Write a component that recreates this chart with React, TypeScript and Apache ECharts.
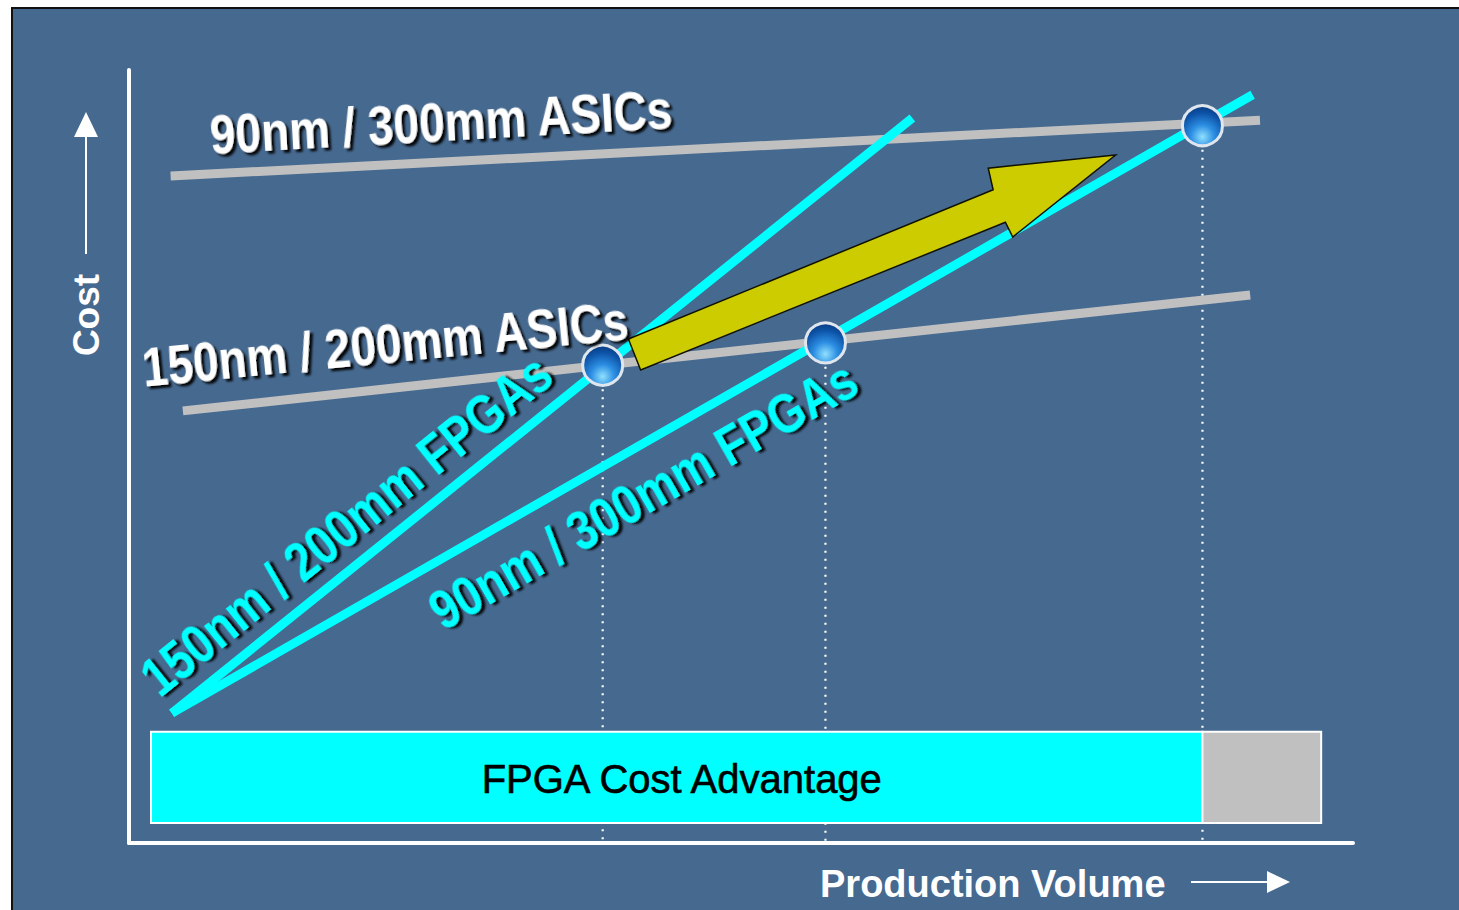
import React, { useEffect, useRef } from "react";
import * as echarts from "echarts";

// ---- Conceptual scales: Production Volume (x) and Cost (y), 0..100 ----
const X_RANGE = [0, 100];
const Y_RANGE = [0, 100];

// ---- Cost lines (start / end points) ----
const LINE_NAMES = [
  "90nm / 300mm ASICs",
  "150nm / 200mm ASICs",
  "150nm / 200mm FPGAs",
  "90nm / 300mm FPGAs",
];
const ASIC_90 = [
  [3.4, 86.3],
  [92.4, 93.5],
];
const ASIC_150 = [
  [4.4, 55.9],
  [91.6, 70.9],
];
const FPGA_150 = [
  [3.5, 16.8],
  [64.0, 93.8],
];
const FPGA_90 = [
  [3.5, 16.8],
  [91.8, 96.8],
];

// ---- Crossover points ----
const CROSSOVERS = [
  [38.7, 61.8],
  [56.9, 64.7],
  [87.7, 92.8],
];

// ---- Bottom bar: FPGA cost advantage region and remaining region ----
const BAR_LABEL = "FPGA Cost Advantage";
const BAR_X = [
  [1.8, 87.7],
  [87.7, 97.4],
];
const BAR_Y = [14.4, 2.6];
const BAR_COLORS = ["#00ffff", "#c0c0c0"];

// ---- Migration arrow outline ----
const ARROW_X = [40.8, 70.6, 70.2, 80.6, 72.2, 71.6, 41.8];
const ARROW_Y = [65.2, 84.5, 87.3, 89.0, 78.4, 80.3, 61.2];

const AXIS_X_NAME = "Production Volume";
const AXIS_Y_NAME = "Cost";

const deg = Math.PI / 180;
const FONT = '"Liberation Sans", Arial, Helvetica, sans-serif';

function bigLabel(text: string, x: number, y: number, rot: number, fill: string) {
  return {
    type: "text",
    x,
    y,
    rotation: rot * deg,
    scaleX: 0.82,
    z: 50,
    silent: true,
    style: {
      text,
      fill,
      font: `bold 56px ${FONT}`,
      align: "center",
      verticalAlign: "middle",
      textShadowColor: "rgba(0,0,0,0.95)",
      textShadowOffsetX: 3,
      textShadowOffsetY: 3,
      textShadowBlur: 2,
    },
  };
}

export default function App() {
  const ref = useRef<HTMLDivElement>(null);

  useEffect(() => {
    if (!ref.current) return;
    const chart = echarts.init(ref.current, null, { renderer: "svg" });

    const lineSeries = (name: string, data: number[][], color: string, z: number) => ({
      name,
      type: "line",
      data,
      symbol: "none",
      silent: true,
      z,
      lineStyle: { color, width: 9, cap: "butt" },
    });

    const dropLines = CROSSOVERS.map(([x, y]) => ({
      type: "line",
      data: [
        [x, y],
        [x, Y_RANGE[0]],
      ],
      symbol: "none",
      silent: true,
      z: 1,
      lineStyle: { color: "#ffffff", width: 2.2, type: [2, 6] },
    }));

    const sphere = new echarts.graphic.RadialGradient(0.5, 0.78, 0.75, [
      { offset: 0, color: "#8fe0ff" },
      { offset: 0.4, color: "#2b8de2" },
      { offset: 0.8, color: "#0c52a6" },
      { offset: 1, color: "#0a3f86" },
    ]);

    const option: any = {
      animation: false,
      backgroundColor: "#ffffff",
      grid: { left: 129, top: 70, width: 1224, height: 773, containLabel: false },
      xAxis: {
        type: "value",
        min: X_RANGE[0],
        max: X_RANGE[1],
        axisLine: { show: true, onZero: false, lineStyle: { color: "#ffffff", width: 4 } },
        axisTick: { show: false },
        axisLabel: { show: false },
        splitLine: { show: false },
      },
      yAxis: {
        type: "value",
        min: Y_RANGE[0],
        max: Y_RANGE[1],
        axisLine: { show: true, onZero: false, lineStyle: { color: "#ffffff", width: 4 } },
        axisTick: { show: false },
        axisLabel: { show: false },
        splitLine: { show: false },
      },
      series: [
        ...dropLines,
        lineSeries(LINE_NAMES[0], ASIC_90, "#c0c0c0", 2),
        lineSeries(LINE_NAMES[1], ASIC_150, "#c0c0c0", 2),
        lineSeries(LINE_NAMES[2], FPGA_150, "#00ffff", 3),
        lineSeries(LINE_NAMES[3], FPGA_90, "#00ffff", 3),
        {
          type: "custom",
          z: 4,
          silent: true,
          encode: { x: [0, 1], y: [2, 3] },
          data: BAR_X.map(([a, b]) => [a, b, BAR_Y[0], BAR_Y[1]]),
          renderItem: (params: any, api: any) => {
            const p0 = api.coord([api.value(0), api.value(2)]);
            const p1 = api.coord([api.value(1), api.value(3)]);
            const el: any = {
              type: "rect",
              shape: { x: p0[0], y: p0[1], width: p1[0] - p0[0], height: p1[1] - p0[1] },
              style: { fill: BAR_COLORS[params.dataIndex], stroke: "#ffffff", lineWidth: 2 },
            };
            if (params.dataIndex === 0) {
              el.textContent = {
                style: {
                  text: BAR_LABEL,
                  fill: "#000000",
                  font: `40px ${FONT}`,
                  stroke: "#000000",
                  lineWidth: 0.6,
                },
              };
              el.textConfig = { position: "inside", offset: [5, 2] };
            }
            return el;
          },
        },
        {
          type: "custom",
          z: 5,
          silent: true,
          data: [[ARROW_X[0], ARROW_Y[0]]],
          renderItem: (params: any, api: any) => {
            const points = ARROW_X.map((x, i) => api.coord([x, ARROW_Y[i]]));
            return {
              type: "polygon",
              shape: { points },
              style: { fill: "#cccc00", stroke: "#111100", lineWidth: 1.5 },
            };
          },
        },
        {
          type: "scatter",
          z: 6,
          silent: true,
          data: CROSSOVERS,
          symbol: "circle",
          symbolSize: 40,
          itemStyle: { color: sphere, borderColor: "#dfe6ee", borderWidth: 3, opacity: 1 },
        },
      ],
      graphic: [
        {
          type: "rect",
          z: -10,
          silent: true,
          shape: { x: 12, y: 8, width: 1460, height: 910 },
          style: { fill: "#46698f", stroke: "#111111", lineWidth: 2 },
        },
        bigLabel(LINE_NAMES[0], 441, 122, 3.2, "#ffffff"),
        bigLabel(LINE_NAMES[1], 385, 344, 5.6, "#ffffff"),
        bigLabel(LINE_NAMES[2], 346, 525, 38.7, "#00ffff"),
        bigLabel(LINE_NAMES[3], 643, 495, 29.8, "#00ffff"),
        {
          type: "text",
          x: 86,
          y: 315,
          rotation: 90 * deg,
          z: 50,
          silent: true,
          style: {
            text: AXIS_Y_NAME,
            fill: "#ffffff",
            font: `bold 37px ${FONT}`,
            align: "center",
            verticalAlign: "middle",
          },
        },
        {
          type: "line",
          z: 50,
          silent: true,
          shape: { x1: 86, y1: 254, x2: 86, y2: 134 },
          style: { stroke: "#ffffff", lineWidth: 2 },
        },
        {
          type: "polygon",
          z: 50,
          silent: true,
          shape: { points: [[74, 137], [86, 112], [98, 137]] },
          style: { fill: "#ffffff" },
        },
        {
          type: "text",
          x: 820,
          y: 884,
          z: 50,
          silent: true,
          style: {
            text: AXIS_X_NAME,
            fill: "#ffffff",
            font: `bold 38px ${FONT}`,
            align: "left",
            verticalAlign: "middle",
          },
        },
        {
          type: "line",
          z: 50,
          silent: true,
          shape: { x1: 1191, y1: 882, x2: 1270, y2: 882 },
          style: { stroke: "#ffffff", lineWidth: 2 },
        },
        {
          type: "polygon",
          z: 50,
          silent: true,
          shape: { points: [[1267, 871], [1290, 882], [1267, 893]] },
          style: { fill: "#ffffff" },
        },
      ],
    };

    chart.setOption(option);
    return () => chart.dispose();
  }, []);

  return (
    <div
      ref={ref}
      style={{ position: "absolute", left: 0, top: 0, width: 1459, height: 910 }}
    />
  );
}
